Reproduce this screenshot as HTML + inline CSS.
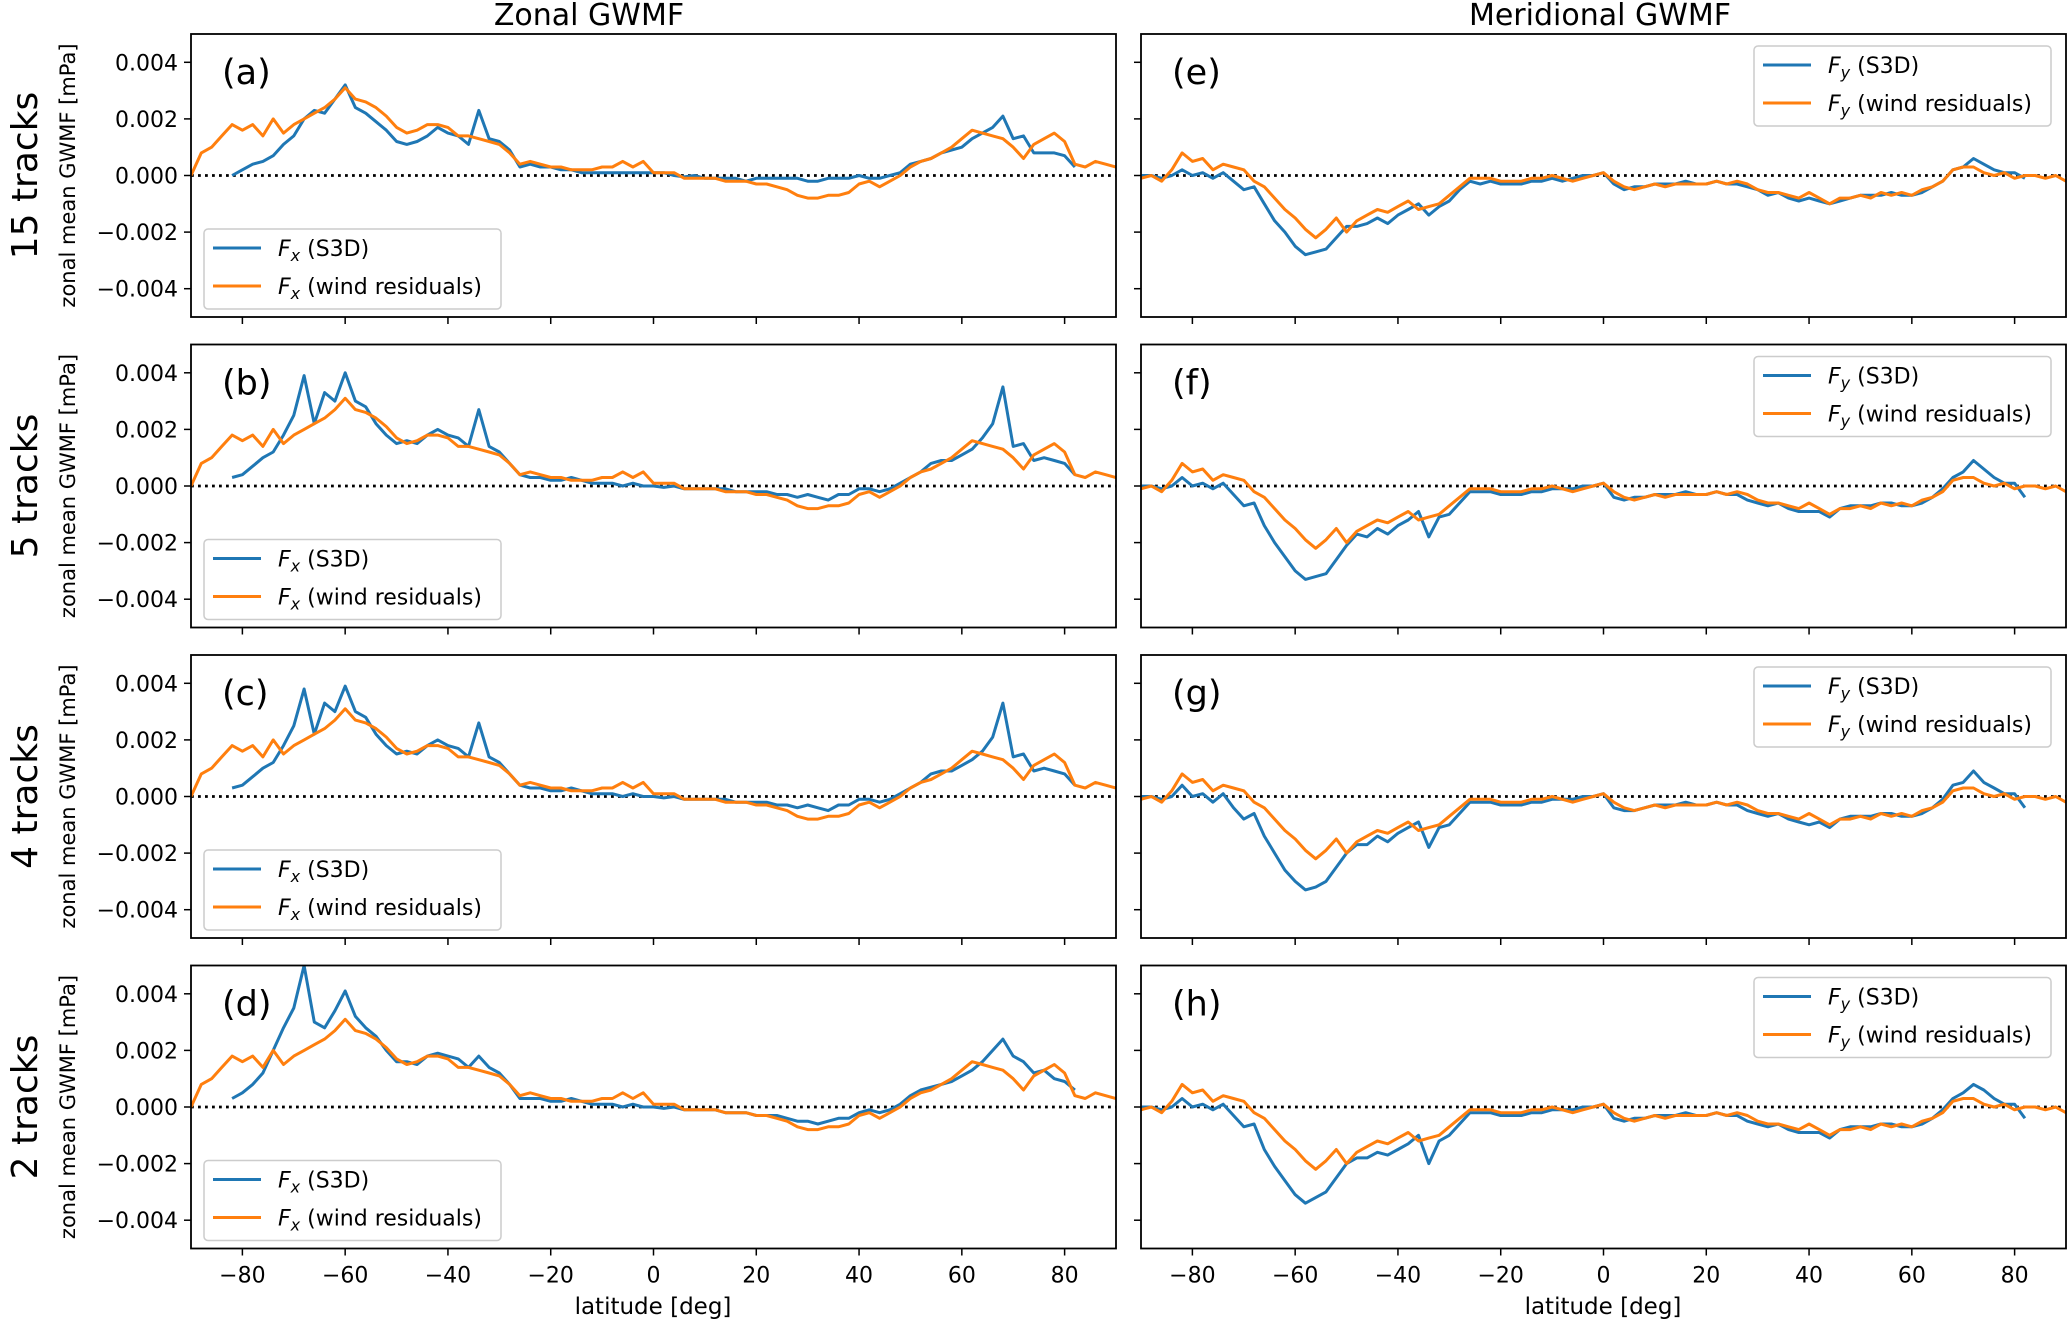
<!DOCTYPE html>
<html><head><meta charset="utf-8"><style>
html,body{margin:0;padding:0;background:#fff;}
svg{display:block;font-family:"DejaVu Sans","Liberation Sans",sans-serif;}
</style></head><body>
<svg id="fig" width="2067" height="1319" viewBox="0 0 2067 1319" xmlns="http://www.w3.org/2000/svg"></svg>
<script>
// latitude grid (deg), values in units of 1e-4 mPa
const LAT_START = -90, LAT_STEP = 2;
const zonalRes = [0,8,10,14,18,16,18,14,20,15,18,20,22,24,27,31,27,26,24,21,17,15,16,18,18,17,14,14,13,12,11,8,4,5,4,3,3,2,2,2,3,3,5,3,5,1,1,1,-1,-1,-1,-1,-2,-2,-2,-3,-3,-4,-5,-7,-8,-8,-7,-7,-6,-3,-2,-4,-2,0,3,5,6,8,10,13,16,15,14,13,10,6,11,13,15,12,4,3,5,4,3];
// S3D series start at -82 deg
const zonalS3dA = [0,2,4,5,7,11,14,20,23,22,27,32,24,22,19,16,12,11,12,14,17,15,14,11,23,13,12,9,3,4,3,3,2,2,1,1,1,1,1,1,1,1,1,0,-0.5,0,-1,-1,-1,-1,-2,-1,-1,-1,-1,-1,-2,-2,-1,-1,-1,0,-1,-1,0,1,4,5,6,8,9,10,13,15,17,21,13,14,8,8,8,7,3];
const zonalS3dB = [3,4,7,10,12,18,25,39,22,33,30,40,30,28,22,18,15,16,15,18,20,18,17,14,27,14,12,8,4,3,3,2,2,3,2,1,1,1,0,1,0,0,-0.5,0,-1,-1,-1,-1,-1,-2,-2,-2,-2,-3,-3,-4,-3,-4,-5,-3,-3,-1,-1,-2,-1,1,3,5,8,9,9,11,13,17,22,35,14,15,9,10,9,8,4];
const zonalS3dC = [3,4,7,10,12,18,25,38,22,33,30,39,30,28,22,18,15,16,15,18,20,18,17,14,26,14,12,8,4,3,3,2,2,3,2,1,1,1,0,1,0,0,-0.5,0,-1,-1,-1,-1,-1,-2,-2,-2,-2,-3,-3,-4,-3,-4,-5,-3,-3,-1,-1,-2,-1,1,3,5,8,9,9,11,13,16,21,33,14,15,9,10,9,8,4];
const zonalS3dD = [3,5,8,12,20,28,35,50,30,28,34,41,32,28,25,20,16,16,15,18,19,18,17,14,18,14,12,8,3,3,3,2,2,3,2,1,1,1,0,1,0,0,-0.5,0,-1,-1,-1,-1,-2,-2,-2,-3,-3,-3,-4,-5,-5,-6,-5,-4,-4,-2,-1,-2,-1,1,4,6,7,8,9,11,13,16,20,24,18,16,12,13,10,9,6];
const meridRes = [-1,0,-2,2,8,5,6,2,4,3,2,-2,-4,-8,-12,-15,-19,-22,-19,-15,-20,-16,-14,-12,-13,-11,-9,-12,-11,-10,-7,-4,-1,-1,-1,-2,-2,-2,-1,-1,0,-1,-2,-1,0,1,-2,-4,-5,-4,-3,-4,-3,-3,-3,-3,-2,-3,-2,-3,-5,-6,-6,-7,-8,-6,-8,-10,-8,-8,-7,-8,-6,-7,-6,-7,-5,-4,-2,2,3,3,1,0,1,-1,0,0,-1,0,-2];
// meridional S3D series from -90 to 82 deg
const meridS3dE = [0,0,-1,0,2,0,1,-1,1,-2,-5,-4,-10,-16,-20,-25,-28,-27,-26,-22,-18,-18,-17,-15,-17,-14,-12,-10,-14,-11,-9,-5,-2,-3,-2,-3,-3,-3,-2,-2,-1,-2,-1,0,0,1,-3,-5,-4,-4,-3,-3,-3,-2,-3,-3,-2,-3,-3,-4,-5,-7,-6,-8,-9,-8,-9,-10,-9,-8,-7,-7,-7,-6,-7,-7,-6,-4,-2,2,3,6,4,2,1,1,-1];
const meridS3dF = [0,0,-1,0,3,0,1,-1,1,-3,-7,-6,-14,-20,-25,-30,-33,-32,-31,-26,-21,-17,-18,-15,-17,-14,-12,-9,-18,-11,-10,-6,-2,-2,-2,-3,-3,-3,-2,-2,-1,-1,-1,0,0,1,-4,-5,-4,-4,-3,-3,-3,-2,-3,-3,-2,-3,-3,-5,-6,-7,-6,-8,-9,-9,-9,-11,-8,-7,-7,-7,-6,-6,-7,-7,-6,-4,-1,3,5,9,6,3,1,1,-4];
const meridS3dG = [0,0,-1,0,4,0,1,-2,1,-4,-8,-6,-14,-20,-26,-30,-33,-32,-30,-25,-20,-17,-17,-14,-16,-13,-11,-9,-18,-11,-10,-6,-2,-2,-2,-3,-3,-3,-2,-2,-1,-1,-1,0,0,1,-4,-5,-5,-4,-3,-3,-3,-2,-3,-3,-2,-3,-3,-5,-6,-7,-6,-8,-9,-10,-9,-11,-8,-7,-7,-7,-6,-6,-7,-7,-6,-4,-1,4,5,9,5,3,1,1,-4];
const meridS3dH = [0,0,-1,0,3,0,1,-1,1,-3,-7,-6,-15,-21,-26,-31,-34,-32,-30,-25,-20,-18,-18,-16,-17,-15,-13,-10,-20,-12,-10,-6,-2,-2,-2,-3,-3,-3,-2,-2,-1,-1,-1,0,0,1,-4,-5,-4,-4,-3,-3,-3,-2,-3,-3,-2,-3,-3,-5,-6,-7,-6,-8,-9,-9,-9,-11,-8,-7,-7,-7,-6,-6,-7,-7,-6,-4,-1,3,5,8,6,3,1,1,-4];
const xTicks = [-80,-60,-40,-20,0,20,40,60,80];
const yTicks = [4,2,0,-2,-4];
const yTickLabels = ["0.004","0.002","0.000","\u22120.002","\u22120.004"];
const rowLabels = ["15 tracks","5 tracks","4 tracks","2 tracks"];
const leftLetters = ["(a)","(b)","(c)","(d)"];
const rightLetters = ["(e)","(f)","(g)","(h)"];
const leftS3d = [zonalS3dA, zonalS3dB, zonalS3dC, zonalS3dD];
const rightS3d = [meridS3dE, meridS3dF, meridS3dG, meridS3dH];

const NS = "http://www.w3.org/2000/svg";
const svg = document.getElementById("fig");
function mk(tag, attrs, parent, text){
  const e = document.createElementNS(NS, tag);
  for (const k in attrs) e.setAttribute(k, attrs[k]);
  if (text !== undefined) e.textContent = text;
  (parent||svg).appendChild(e); return e;
}
const ROW_TOP = [34, 344.5, 655, 965.5], ROW_H = 283;
const COLS = [{x0:191, x1:1116}, {x0:1141, x1:2066}];
const BLUE = "#1f77b4", ORANGE = "#ff7f0e";

function drawPanel(col, row, s3d, res, s3dStart, letter, comp){
  const {x0,x1} = COLS[col];
  const y0 = ROW_TOP[row], y1 = y0 + ROW_H;
  const xs = v => x0 + (v + 90) / 180 * (x1 - x0);
  const ys = v => y0 + (50 - v) / 100 * ROW_H;
  const g = mk("g", {});
  
  
  const cid = "clip" + col + row;
  const cp = mk("clipPath", {id: cid}, g);
  mk("rect", {x:x0, y:y0, width:x1-x0, height:ROW_H}, cp);
  const zero = mk("line", {x1:x0, x2:x1, y1:ys(0), y2:ys(0), stroke:"#000", "stroke-width":2.8, "stroke-dasharray":"2.8 4.2"}, g);
  
  
  function line(arr, start, color, name){
    let d = "";
    arr.forEach((v,i) => { d += (i?"L":"M") + xs(start + i*LAT_STEP).toFixed(1) + "," + ys(v).toFixed(1); });
    const p = mk("path", {d, fill:"none", stroke:color, "stroke-width":3, "stroke-linejoin":"round", "clip-path":"url(#"+cid+")"}, g);
    
    
  }
  line(s3d, s3dStart, BLUE, "series-s3d");
  line(res, LAT_START, ORANGE, "series-wind-residuals");
  const fr = mk("rect", {x:x0, y:y0, width:x1-x0, height:ROW_H, fill:"none", stroke:"#000", "stroke-width":1.8}, g);
  
  
  xTicks.forEach(t => {
    const tk = mk("line", {x1:xs(t), x2:xs(t), y1:y1, y2:y1+7, stroke:"#000", "stroke-width":1.5}, g);
    
    
    if (row === 3) {
      const lb = mk("text", {x:xs(t), y:y1+34, "font-size":22, "text-anchor":"middle"}, g, t < 0 ? "\u2212"+(-t) : String(t));
      
      
    }
  });
  yTicks.forEach((t,i) => {
    const tk = mk("line", {x1:x0-7, x2:x0, y1:ys(t*10), y2:ys(t*10), stroke:"#000", "stroke-width":1.5}, g);
    
    
    if (col === 0) {
      const lb = mk("text", {x:x0-13, y:ys(t*10)+8, "font-size":22, "text-anchor":"end"}, g, yTickLabels[i]);
      
      
    }
  });
  const lt = mk("text", {x:x0+31, y:y0+50, "font-size":35}, g, letter);
  
  
  const lx = col === 0 ? x0+13 : 1754, ly = col === 0 ? y0+195 : y0+12;
  const lg = mk("g", {}, g);
  
  
  mk("rect", {x:lx, y:ly, width:297, height:80, rx:4, fill:"#fff", "fill-opacity":0.8, stroke:"#ccc", "stroke-width":1.5}, lg);
  [[BLUE,"(S3D)"],[ORANGE,"(wind residuals)"]].forEach((e,i) => {
    const yy = ly + 19 + i*38;
    const en = mk("g", {}, lg);
    
    
    mk("line", {x1:lx+9, x2:lx+57, y1:yy, y2:yy, stroke:e[0], "stroke-width":3}, en);
    const tx = mk("text", {x:lx+74, y:yy+8, "font-size":22}, en);
    mk("tspan", {"font-style":"italic"}, tx, "F");
    mk("tspan", {"font-style":"italic", "font-size":16, dy:5}, tx, comp);
    mk("tspan", {dy:-5}, tx, " " + e[1]);
  });
}
for (let r = 0; r < 4; r++) {
  drawPanel(0, r, leftS3d[r], zonalRes, -82, leftLetters[r], "x");
  drawPanel(1, r, rightS3d[r], meridRes, -90, rightLetters[r], "y");
  const cy = ROW_TOP[r] + ROW_H/2;
  const rl = mk("text", {x:0, y:0, "font-size":36, "text-anchor":"middle", transform:`translate(37,${cy}) rotate(-90)`}, svg, rowLabels[r]);
  
  
  const yl = mk("text", {x:0, y:0, "font-size":21, "text-anchor":"middle", transform:`translate(75,${cy}) rotate(-90)`}, svg, "zonal mean GWMF [mPa]");
  
  
}
const t1 = mk("text", {x:589, y:25, "font-size":30, "text-anchor":"middle"}, svg, "Zonal GWMF");


const t2 = mk("text", {x:1600, y:25, "font-size":30, "text-anchor":"middle"}, svg, "Meridional GWMF");


[[653],[1603]].forEach((c,i) => {
  const xl = mk("text", {x:c[0], y:1314, "font-size":23, "text-anchor":"middle"}, svg, "latitude [deg]");
  
  
});
</script>
</body></html>
